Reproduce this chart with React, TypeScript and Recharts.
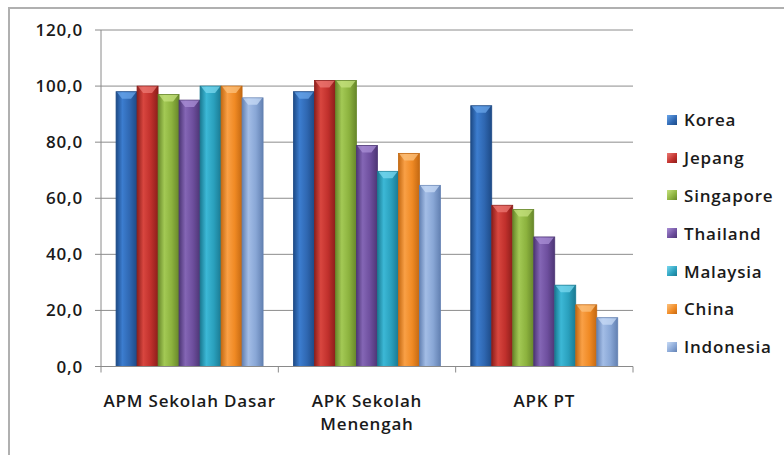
import { BarChart, Bar, XAxis, YAxis, CartesianGrid, Legend, Text } from 'recharts';

const categories = ['APM Sekolah Dasar', 'APK Sekolah\nMenengah', 'APK PT'];
const countries = ['Korea', 'Jepang', 'Singapore', 'Thailand', 'Malaysia', 'China', 'Indonesia'];

const korea = [98, 98, 93];
const jepang = [100, 102, 57.5];
const singapore = [97, 102, 56];
const thailand = [95, 78.8, 46.2];
const malaysia = [100, 69.6, 29];
const china = [100, 76, 22];
const indonesia = [95.8, 64.6, 17.4];

const yTicks = [0, 20, 40, 60, 80, 100, 120];

const seriesValues = [korea, jepang, singapore, thailand, malaysia, china, indonesia];

const data = categories.map((c, i) => {
  const row: Record<string, any> = { category: c };
  countries.forEach((k, j) => (row[k] = seriesValues[j][i]));
  return row;
});

// base / dark edge / light center / bevel highlight
const COLORS: Record<string, [string, string, string, string]> = {
  Korea: ['#2f67b1', '#1d4a86', '#3c7dcf', '#6aa6ea'],
  Jepang: ['#c0302c', '#8c1e1b', '#d8463f', '#ec7a74'],
  Singapore: ['#8cb23e', '#67872a', '#a3c955', '#c6e27f'],
  Thailand: ['#6e4f9e', '#4d3675', '#8466b5', '#a98fd6'],
  Malaysia: ['#2aa0bd', '#1a7a92', '#3cb8d6', '#7ad8ef'],
  China: ['#f08a24', '#c46912', '#f9a046', '#fcc27e'],
  Indonesia: ['#89a7d6', '#6381b2', '#a3bde6', '#c8dbf6'],
};

const FONT = '"Open Sans", sans-serif';
const TEXT_STYLE = { fontSize: 17, fontWeight: 600, fontFamily: FONT, letterSpacing: 0.8 };
const BAND = (633 - 101) / 3;

function BarShape(props: any) {
  const { x, y, width, height } = props;
  const key = props.dataKey as string;
  if (!height || height <= 0) return null;
  const [, dark, , hi] = COLORS[key];
  const bev = Math.min(7, height);
  return (
    <g>
      <rect x={x} y={y} width={width} height={height} fill={`url(#g_${key})`} stroke={dark} strokeWidth={0.8} />
      <polygon
        points={`${x + 1},${y + 0.5} ${x + width - 1},${y + 0.5} ${x + width - 6},${y + bev} ${x + 6},${y + bev}`}
        fill={hi}
        opacity={0.75}
      />
    </g>
  );
}

function XTick(props: any) {
  const { x, y, payload, index } = props;
  const lines = String(payload.value).split('\n');
  return (
    <g>
      <line x1={x - BAND / 2} y1={y - 8} x2={x - BAND / 2} y2={y - 2} stroke="#8a8a8a" />
      {index === categories.length - 1 && (
        <line x1={x + BAND / 2} y1={y - 8} x2={x + BAND / 2} y2={y - 2} stroke="#8a8a8a" />
      )}
      {lines.map((l, i) => (
        <Text
          key={i}
          x={x}
          y={y + 26 + i * 23}
          textAnchor="middle"
          verticalAnchor="middle"
          fill="#1a1a1a"
          style={TEXT_STYLE}
        >
          {l}
        </Text>
      ))}
    </g>
  );
}

function LegendContent() {
  return (
    <div style={{ ...TEXT_STYLE, color: '#1a1a1a' }}>
      {countries.map((c) => (
        <div key={c} style={{ display: 'flex', alignItems: 'center', height: 37.8 }}>
          <span
            style={{
              display: 'inline-block',
              width: 10,
              height: 10,
              marginRight: 7,
              background: `linear-gradient(135deg, ${COLORS[c][3]}, ${COLORS[c][0]} 60%, ${COLORS[c][1]})`,
            }}
          />
          {c}
        </div>
      ))}
    </div>
  );
}

export default function App() {
  return (
    <div style={{ position: 'absolute', left: 0, top: 0, width: 784, height: 455, overflow: 'hidden', background: '#fff' }}>
      <div
        style={{
          position: 'absolute',
          left: 8,
          top: 7,
          width: 800,
          height: 500,
          borderTop: '2px solid #b0b0b0',
          borderLeft: '2px solid #b0b0b0',
        }}
      />
      <div style={{ position: 'absolute', left: 0, top: 0 }}>
        <BarChart
          width={784}
          height={455}
          data={data}
          margin={{ top: 30, right: 151, left: 0, bottom: 0 }}
          barCategoryGap="8.5%"
          barGap={0}
        >
          <defs>
            {countries.map((c) => (
              <linearGradient key={c} id={`g_${c}`} x1="0" y1="0" x2="1" y2="0">
                <stop offset="0%" stopColor={COLORS[c][1]} />
                <stop offset="30%" stopColor={COLORS[c][2]} />
                <stop offset="65%" stopColor={COLORS[c][0]} />
                <stop offset="100%" stopColor={COLORS[c][1]} />
              </linearGradient>
            ))}
          </defs>
          <CartesianGrid vertical={false} stroke="#8c8c8c" strokeWidth={1} />
          <XAxis
            dataKey="category"
            height={88.5}
            axisLine={{ stroke: '#8a8a8a' }}
            tickLine={false}
            tick={<XTick />}
            interval={0}
          />
          <YAxis
            width={101}
            domain={[0, 120]}
            ticks={yTicks}
            interval={0}
            axisLine={{ stroke: '#8a8a8a' }}
            tickLine={{ stroke: '#8a8a8a' }}
            tickSize={6}
            tickMargin={12}
            tickFormatter={(v: number) => v.toFixed(1).replace('.', ',')}
            tick={{ fill: '#1a1a1a', ...TEXT_STYLE }}
          />
          <Legend
            layout="vertical"
            align="center"
            verticalAlign="middle"
            content={<LegendContent />}
            wrapperStyle={{ left: 667, top: 101, width: 120, height: 270 }}
          />
          {countries.map((c) => (
            <Bar key={c} dataKey={c} name={c} shape={<BarShape dataKey={c} />} isAnimationActive={false} />
          ))}
        </BarChart>
      </div>
    </div>
  );
}
